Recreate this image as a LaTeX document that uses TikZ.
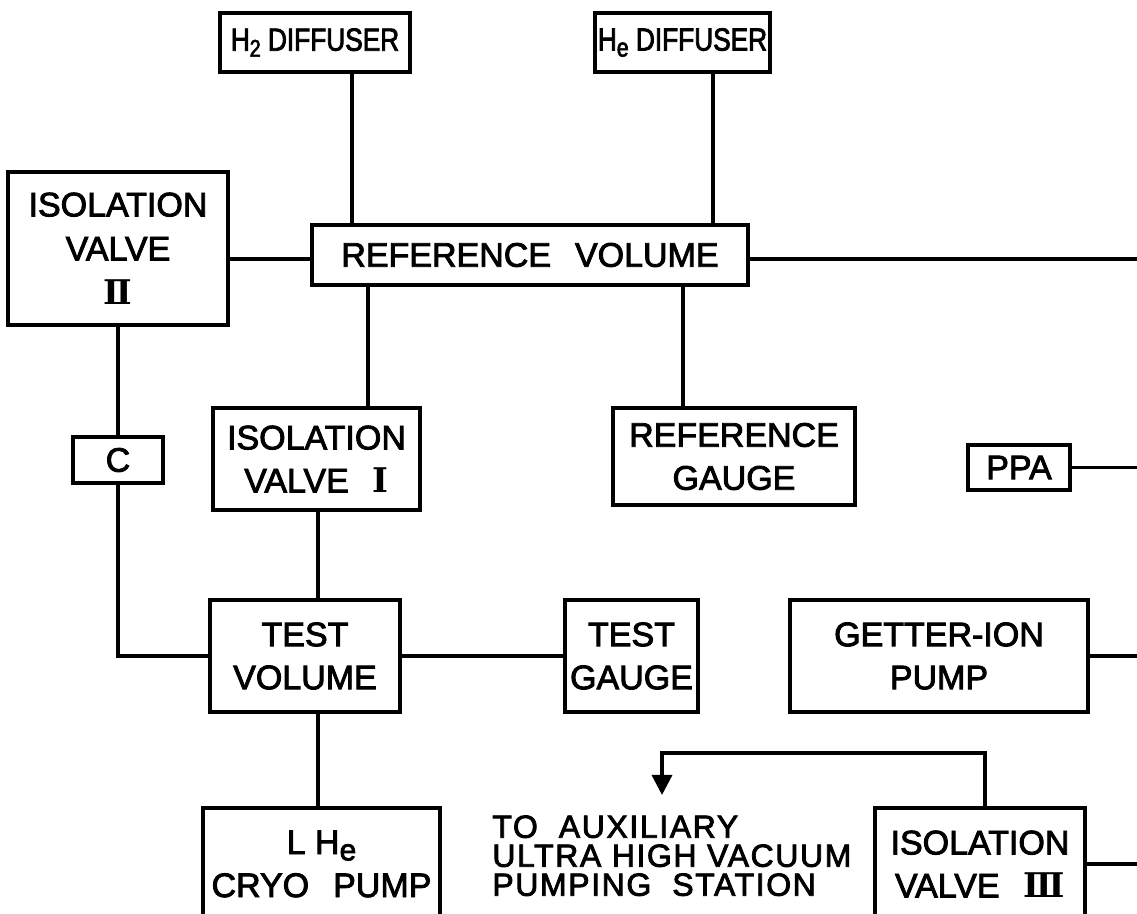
\documentclass[tikz,border=0pt]{standalone}
\usepackage{fontspec}
\setsansfont{Liberation Sans}[FakeBold=2.5]
\newfontfamily\auxfont{Liberation Sans}[FakeBold=2.5,LetterSpace=5]
\newfontfamily\narrowfont{Liberation Sans}[FakeBold=2.5,FakeStretch=0.82]
\newfontfamily\rnfont{DejaVu Serif}
\usetikzlibrary{arrows.meta}
\newcommand{\He}[1][15pt]{H\raisebox{-0.35ex}{\fontsize{#1}{#1}\selectfont e}}
\newcommand{\Htwo}{H\raisebox{-0.35ex}{\fontsize{12pt}{12pt}\selectfont 2}}
\newcommand{\rn}[1]{{\rnfont\bfseries #1}}
\newcommand{\gap}{\hspace{12pt}}
\begin{document}
\begin{tikzpicture}[x=0.5pt,y=-0.5pt,
  box/.style={draw,line width=1.6pt,align=center,inner sep=0pt,font=\sffamily\fontsize{17pt}{21.5pt}\selectfont},
  small/.style={font=\narrowfont\fontsize{16pt}{18pt}\selectfont},
  conn/.style={line width=1.6pt}]
\useasboundingbox (0,0) rectangle (1137,914);
\clip (0,0) rectangle (1137,914);
% edge coordinates
\coordinate (re) at (1137,0);
\coordinate (x352) at (352,0);
\coordinate (x713) at (713,0);
\coordinate (x368) at (368,0);
\coordinate (x683) at (683,0);
\coordinate (x318) at (318,0);
\coordinate (x985) at (985,0);
\coordinate (y259) at (0,259);
\coordinate (turn) at (985,753);
\coordinate (tip) at (662,795);
% boxes
\node[box,small,minimum width=95pt,minimum height=29.5pt] (h2) at (315,42.5) {\Htwo\ DIFFUSER};
\node[box,small,minimum width=87.5pt,minimum height=29.5pt] (he) at (682.5,42.5) {\He[13pt]\ DIFFUSER};
\node[box,minimum width=110pt,minimum height=76.5pt] (v2) at (118,248.5) {ISOLATION\\[0.5pt]VALVE\\[0.5pt]\rn{Ⅱ}};
\node[box,minimum width=218pt,minimum height=30pt] (refvol) at (530,255) {REFERENCE\gap VOLUME};
\node[box,minimum width=103.5pt,minimum height=51pt] (v1) at (316.5,459) {ISOLATION\\VALVE\gap\rn{Ⅰ}};
\node[box,minimum width=121pt,minimum height=48.5pt] (refg) at (734,456.5) {REFERENCE\\GAUGE};
\node[box,minimum width=51pt,minimum height=22.5pt] (ppa) at (1019,467.5) {PPA};
\node[box,minimum width=45pt,minimum height=23pt] (c) at (118,460) {C};
\node[box,minimum width=95pt,minimum height=56pt] (tv) at (305,656) {TEST\\VOLUME};
\node[box,minimum width=66.5pt,minimum height=56pt] (tg) at (631.5,656) {TEST\\GAUGE};
\node[box,minimum width=149pt,minimum height=56pt] (gip) at (939,656) {GETTER-ION\\PUMP};
\node[box,minimum width=118.5pt,minimum height=56pt] (cryo) at (321.5,864) {L \He\\CRYO\gap PUMP};
\node[box,minimum width=105pt,minimum height=56pt] (v3) at (980,864) {ISOLATION\\VALVE\gap\rn{Ⅲ}};
\node[anchor=north west,align=left,inner sep=0pt,font=\auxfont\fontsize{16pt}{14.5pt}\selectfont] (aux) at (492,815) {TO\ \ AUXILIARY\\ULTRA HIGH VACUUM\\PUMPING\ \ STATION};
% connectors
\draw[conn] (x352 |- h2.south) -- (x352 |- refvol.north);
\draw[conn] (x713 |- he.south) -- (x713 |- refvol.north);
\draw[conn] (y259 -| v2.east) -- (y259 -| refvol.west);
\draw[conn] (y259 -| refvol.east) -- (y259 -| re);
\draw[conn] (x368 |- refvol.south) -- (x368 |- v1.north);
\draw[conn] (x683 |- refvol.south) -- (x683 |- refg.north);
\draw[conn] (ppa.east) -- (ppa.east -| re);
\draw[conn] (v2.south) -- (c.north);
\draw[conn] (c.south) |- (tv.west);
\draw[conn] (x318 |- v1.south) -- (x318 |- tv.north);
\draw[conn] (tv.east) -- (tg.west);
\draw[conn] (gip.east) -- (gip.east -| re);
\draw[conn] (x318 |- tv.south) -- (x318 |- cryo.north);
\draw[conn] (v3.east) -- (v3.east -| re);
\draw[conn,-{Triangle[length=10pt,width=10pt]}] (x985 |- v3.north) -- (turn) -| (tip);
\end{tikzpicture}
\end{document}
